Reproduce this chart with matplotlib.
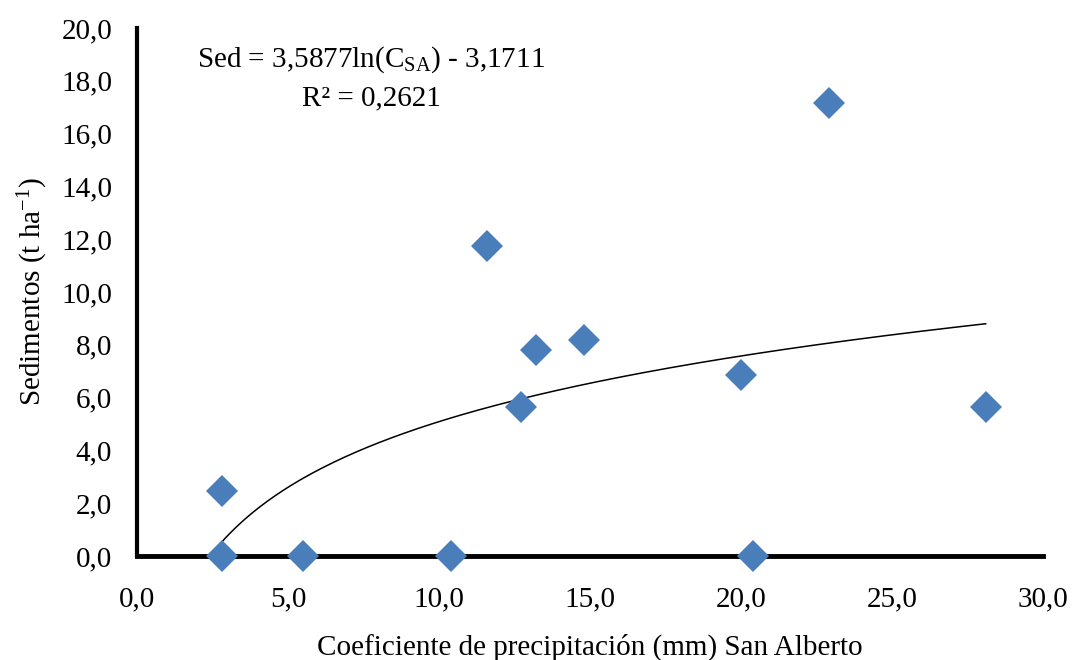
import numpy as np
import matplotlib
matplotlib.use("Agg")
import matplotlib.pyplot as plt

# Coeficiente de precipitación (mm) vs sedimentos, San Alberto
coef_precip = [2.8, 2.8, 5.5, 10.4, 11.6, 12.7, 13.2, 14.8, 20.0, 20.4, 22.9, 28.1]
sedimentos = [2.45, 0.0, 0.0, 0.0, 11.75, 5.65, 7.8, 8.2, 6.85, 0.0, 17.15, 5.65]

# logarithmic trend: Sed = a*ln(C_SA) + b
coef_a = 3.5877
coef_b = -3.1711
r2 = 0.2621
x_fit_range = (2.8, 28.1)

x_ticks = np.arange(0, 30.1, 5)
y_ticks = np.arange(0, 20.1, 2)

plt.rcParams["font.family"] = ["Liberation Serif", "DejaVu Serif"]
plt.rcParams["mathtext.fontset"] = "custom"
plt.rcParams["mathtext.rm"] = "Liberation Serif"
plt.rcParams["mathtext.it"] = "Liberation Serif:italic"

FS = 21


def fmt(v):
    return f"{v:.1f}".replace(".", ",")


def dec(v):
    return str(v).replace(".", ",")


fig = plt.figure(figsize=(10.74, 6.6), dpi=100)
ax = fig.add_axes([0.1276, 0.1576, 0.8436, 0.80])

xf = np.linspace(x_fit_range[0], x_fit_range[1], 200)
ax.plot(xf, coef_a * np.log(xf) + coef_b, color="black", lw=1.1, zorder=2)
ax.plot(coef_precip, sedimentos, "D", color="#4A7EBB", markersize=16,
        markeredgewidth=0, clip_on=False, zorder=4)

ax.set_xlim(0, 30)
ax.set_ylim(0, 20)
ax.set_xticks(x_ticks)
ax.set_yticks(y_ticks)
ax.set_xticklabels([fmt(v) for v in x_ticks])
ax.set_yticklabels([fmt(v) for v in y_ticks])
ax.tick_params(length=0, labelsize=FS)
ax.tick_params(axis="x", pad=22)
ax.tick_params(axis="y", pad=18)

for side in ("top", "right"):
    ax.spines[side].set_visible(False)
ax.spines["left"].set_linewidth(3)
ax.spines["bottom"].set_linewidth(3.5)

ax.set_xlabel("Coeficiente de precipitación (mm) San Alberto", fontsize=FS, labelpad=15)
ax.set_ylabel(r"Sedimentos (t ha$^{\mathrm{-1}}$)", fontsize=FS, labelpad=8)

eq = f"Sed = {dec(coef_a)}ln(C$_{{\\mathrm{{SA}}}}$) - {dec(-coef_b)}"
ax.text(7.75, 18.8, eq, fontsize=FS, ha="center", va="center")
ax.text(7.75, 17.35, f"R² = {dec(r2)}", fontsize=FS, ha="center", va="center")

fig.savefig("out.png", dpi=100)
